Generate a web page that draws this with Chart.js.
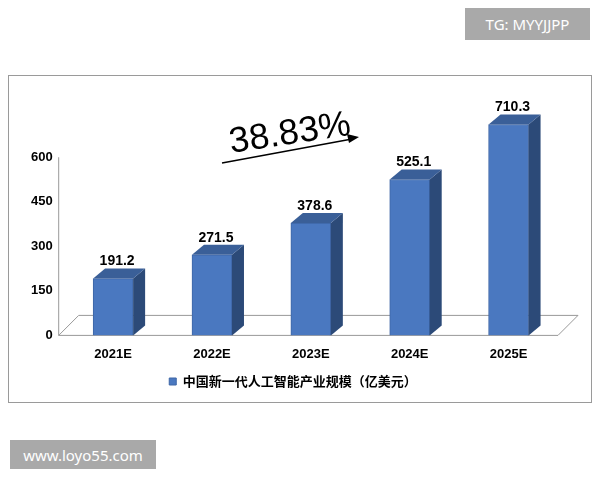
<!DOCTYPE html>
<html><head><meta charset="utf-8">
<script src="https://cdn.jsdelivr.net/npm/chart.js@4"></script>
<style>body{margin:0;background:#fff}#w{position:relative;width:600px;height:480px}
.wm{position:absolute;background:#a9a9a9;color:#fff;font:15px "Noto Sans",sans-serif;display:flex;align-items:center;justify-content:center}
</style></head><body><div id="w"><canvas id="c" width="600" height="480"></canvas>
<div class="wm" style="left:465px;top:8px;width:125px;height:32px">TG: MYYJJPP</div>
<div class="wm" style="left:10px;top:440px;width:146px;height:29px">www.loyo55.com</div>
</div>
<script>
const categories=["2021E","2022E","2023E","2024E","2025E"];
const values=[191.2,271.5,378.6,525.1,710.3];
const seriesName="中国新一代人工智能产业规模（亿美元）";
const yTicks=[0,150,300,450,600];
const growth="38.83%";
const D=12,U=10;
const deco={id:'deco',beforeDraw(ch){const c=ch.ctx,a=ch.chartArea,y0=ch.scales.y.getPixelForValue(0);
c.save();c.fillStyle='#fff';c.fillRect(0,0,600,480);
c.strokeStyle='#9a9a9a';c.lineWidth=1;c.strokeRect(8.5,75.5,583,327);
c.strokeStyle='#999';c.beginPath();c.moveTo(a.left-5,y0);c.lineTo(a.right,y0);c.lineTo(a.right+20,y0-20);c.lineTo(a.left+15,y0-20);c.closePath();c.stroke();
c.beginPath();c.moveTo(a.left-5,y0);c.lineTo(a.left-5,ch.scales.y.getPixelForValue(600));c.stroke();
c.restore();},
afterDatasetsDraw(ch){const c=ch.ctx;const m=ch.getDatasetMeta(0);c.save();
m.data.forEach((b,i)=>{const l=b.x-b.width/2,r=b.x+b.width/2,t=b.y,bt=b.base;
c.fillStyle='#2c4a78';c.beginPath();c.moveTo(r,t);c.lineTo(r+D,t-U);c.lineTo(r+D,bt-U);c.lineTo(r,bt);c.fill();
c.fillStyle='#3a5f98';c.beginPath();c.moveTo(l,t);c.lineTo(l+D,t-U);c.lineTo(r+D,t-U);c.lineTo(r,t);c.fill();
c.fillStyle='#000';c.font='bold 14px "Liberation Sans",Arial';c.textAlign='center';c.fillText(values[i].toFixed(1),b.x+4,t-17);});
c.save();c.translate(290,134);c.rotate(-0.15);c.font='36px "Liberation Sans",Arial';c.textAlign='center';c.fillText(growth,0,0);c.restore();
c.strokeStyle='#000';c.lineWidth=1.5;c.beginPath();c.moveTo(222,163);c.lineTo(352,139);c.stroke();
c.beginPath();c.moveTo(359,137);c.lineTo(347,134);c.lineTo(349,143);c.closePath();c.fillStyle='#000';c.fill();
c.restore();}};
new Chart(document.getElementById('c'),{type:'bar',data:{labels:categories,datasets:[{label:seriesName,data:values,backgroundColor:'#4a78c0',borderColor:'#3e66a6',borderWidth:1,barThickness:40}]},
options:{responsive:false,animation:false,layout:{padding:{left:28,right:42,top:83,bottom:82}},
plugins:{legend:{position:'bottom',labels:{boxWidth:7,boxHeight:7,color:'#000',font:{size:13,weight:'bold',family:'"Noto Sans CJK SC"'}}},tooltip:{enabled:false}},
scales:{x:{grid:{display:false},border:{display:false},ticks:{color:'#000',font:{size:13,weight:'bold',family:'"Liberation Sans"'}}},
y:{min:0,max:850,afterBuildTicks(s){s.ticks=yTicks.map(v=>({value:v}));},grid:{display:false},border:{display:false},ticks:{color:'#000',font:{size:13,weight:'bold',family:'"Liberation Sans"'}}}}},
plugins:[deco]});
</script></body></html>
